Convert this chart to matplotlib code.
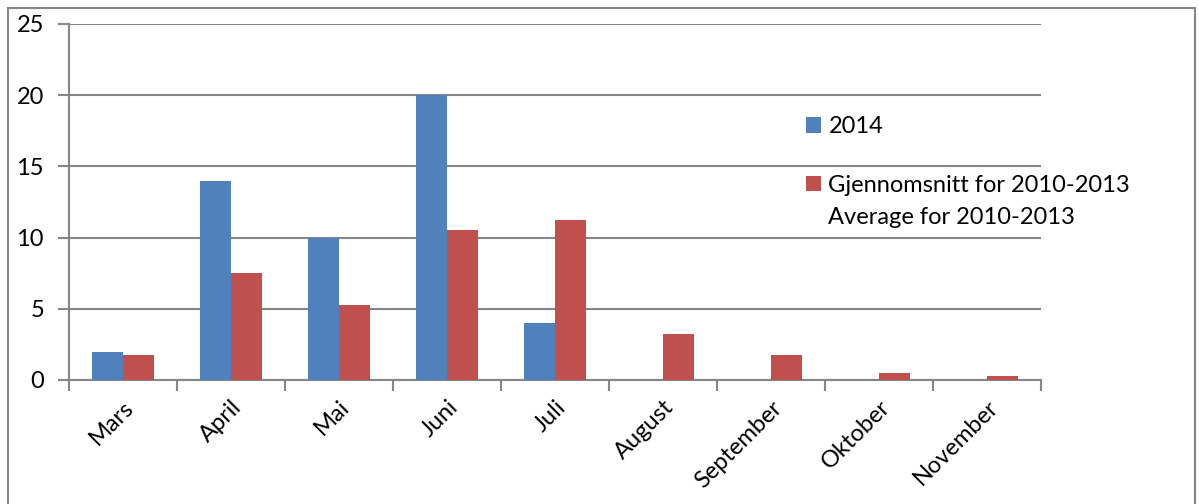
import matplotlib.pyplot as plt
import numpy as np
from matplotlib.patches import Rectangle

months = ['Mars', 'April', 'Mai', 'Juni', 'Juli', 'August', 'September', 'Oktober', 'November']
vals_2014 = [2, 14, 10, 20, 4, 0, 0, 0, 0]
vals_avg = [1.75, 7.5, 5.25, 10.5, 11.25, 3.25, 1.75, 0.5, 0.25]
yticks = [0, 5, 10, 15, 20, 25]
label_2014 = '2014'
label_avg = 'Gjennomsnitt for 2010-2013'
label_avg_en = 'Average for 2010-2013'

blue = '#4F81BD'
red = '#C0504D'
grid_col = '#868686'
fs = 17

plt.rcParams['font.family'] = ['Lato', 'DejaVu Sans']

fig = plt.figure(figsize=(11.99, 5.04), dpi=100)
ax = fig.add_axes([69 / 1199, 1 - 380 / 504, (1041 - 69) / 1199, (380 - 24) / 504])

# outer chart border
fig.patches.append(Rectangle((8 / 1199, -0.01), 1187 / 1199, 1 - 8 / 504 + 0.01,
                             transform=fig.transFigure, fill=False,
                             edgecolor=grid_col, linewidth=1.5))

x = np.arange(len(months))
width = 0.287
ax.bar(x - width / 2, vals_2014, width, color=blue, label=label_2014, zorder=3)
ax.bar(x + width / 2, vals_avg, width, color=red, label=label_avg, zorder=3)

ax.set_xlim(-0.5, len(months) - 0.5)
ax.set_ylim(0, 25)
ax.set_yticks(yticks)
ax.set_yticklabels([str(t) for t in yticks], fontsize=fs)
ax.yaxis.grid(True, color=grid_col, linewidth=1.5, zorder=0)
ax.tick_params(axis='y', length=8, width=1.5, color=grid_col, pad=10)

ax.set_xticks(np.arange(len(months) + 1) - 0.5, minor=False)
ax.set_xticklabels([])
ax.set_xticks(x, minor=True)
ax.set_xticklabels(months, minor=True, rotation=45, ha='right',
                   rotation_mode='anchor', fontsize=fs)
ax.tick_params(axis='x', which='major', length=8, width=1.5, color=grid_col)
ax.tick_params(axis='x', which='minor', length=0, pad=12)

for side in ['top', 'right']:
    ax.spines[side].set_visible(False)
for side in ['left', 'bottom']:
    ax.spines[side].set_color(grid_col)
    ax.spines[side].set_linewidth(1.5)

ax.legend(loc='upper left', bbox_to_anchor=(806 / 1199, 1 - 116 / 504),
          bbox_transform=fig.transFigure, frameon=False, fontsize=fs,
          handlelength=0.65, handleheight=0.65, handletextpad=0.3,
          labelspacing=1.6, borderpad=0, borderaxespad=0)
fig.text(828 / 1199, 1 - 217 / 504, label_avg_en, fontsize=fs, va='center', ha='left')

fig.savefig('out.png', dpi=100)
